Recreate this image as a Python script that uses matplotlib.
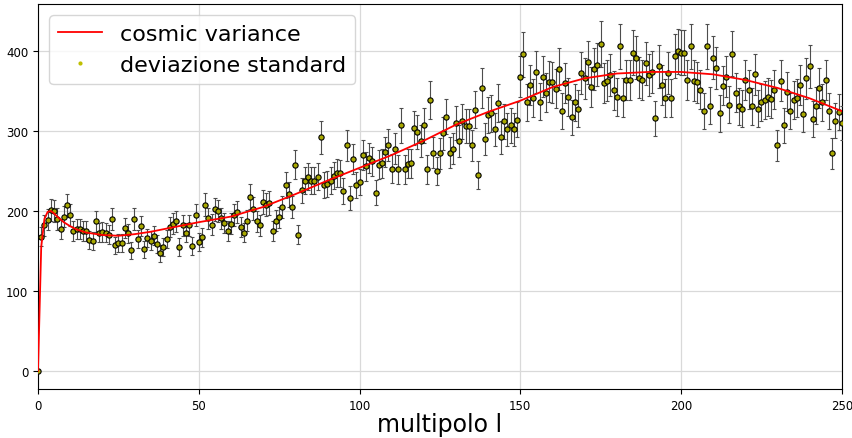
"""
    spettro di potenza: cosmic variance e deviazione standard
"""

import numpy as np
import matplotlib.pyplot as plt

# curva teorica (campionata)
l_teoria = [0, 1, 2, 3, 4, 5, 6, 8, 10, 12, 15, 20, 25, 30, 35, 40, 45, 50,
            60, 70, 80, 90, 100, 110, 120, 130, 140, 150, 160, 170, 180,
            190, 200, 210, 220, 230, 240, 250]
cl_teoria = [0, 155, 190, 199, 200, 197, 193, 186, 181, 177, 173, 170, 169,
             171, 174, 178, 182, 186, 193, 205, 221, 238, 254, 270, 288, 308,
             324, 338, 355, 366, 372, 374, 374, 371, 364, 354, 341, 325]

# dati simulati, un valore per multipolo l = 0..250
cl_dati = [0,
           168, 182, 189, 201, 200, 190, 177, 193, 207, 195,
           175, 177, 177, 175, 175, 164, 162, 187, 173, 174,
           173, 170, 190, 157, 160, 160, 179, 172, 151, 190,
           165, 181, 152, 166, 163, 169, 159, 147, 155, 165,
           180, 184, 187, 155, 182, 173, 182, 156, 195, 161,
           167, 208, 191, 183, 202, 200, 191, 185, 175, 184,
           195, 199, 180, 173, 188, 218, 203, 187, 182, 211,
           208, 210, 175, 188, 192, 205, 232, 221, 205, 258,
           170, 226, 238, 243, 238, 238, 243, 292, 232, 234,
           238, 244, 248, 247, 225, 282, 216, 265, 233, 236,
           270, 256, 266, 262, 223, 258, 260, 274, 283, 253,
           278, 252, 307, 252, 259, 260, 304, 299, 288, 307,
           252, 339, 273, 250, 272, 297, 318, 273, 278, 310,
           288, 312, 306, 306, 282, 327, 245, 354, 290, 320,
           322, 302, 335, 292, 312, 302, 307, 302, 314, 368,
           396, 336, 358, 341, 374, 337, 368, 348, 362, 361,
           353, 378, 325, 360, 343, 317, 336, 328, 373, 366,
           386, 355, 378, 383, 409, 360, 363, 370, 351, 343,
           406, 342, 364, 364, 398, 392, 367, 364, 385, 370,
           374, 316, 381, 358, 341, 373, 341, 394, 400, 398,
           398, 364, 406, 363, 361, 352, 325, 406, 332, 392,
           379, 322, 357, 368, 333, 397, 348, 331, 328, 364,
           352, 331, 371, 328, 336, 339, 343, 340, 352, 282,
           363, 307, 349, 325, 339, 341, 358, 321, 366, 381,
           315, 332, 354, 336, 364, 325, 272, 313, 324, 310]
l_dati = list(range(len(cl_dati)))
err_rel = 0.07

cl_dati = np.array(cl_dati, dtype=float)
errori = err_rel * cl_dati

fig = plt.figure(figsize=(8.52, 4.39), dpi=100)
ax = fig.add_axes([0.0446, 0.112, 0.9434, 0.8766])

ax.plot(l_teoria, cl_teoria, color='red', lw=1.3, label='cosmic variance', zorder=4)
ax.plot(l_dati, cl_dati, '.', color='y', ms=4, label='deviazione standard', zorder=1)
ax.errorbar(l_dati, cl_dati, yerr=errori, fmt='o', ms=3.8, mfc='#a8a800', mec='k',
            mew=0.8, ecolor='0.3', elinewidth=0.8, capsize=1.3, capthick=0.6, zorder=3)

ax.set_xlim(0, 250)
ax.set_ylim(-22.5, 459)
ax.set_xticks(list(range(0, 251, 50)))
ax.set_yticks(list(range(0, 401, 100)))
ax.tick_params(axis='both', labelsize=8.5)
ax.grid(True, color='0.85', lw=0.9)
ax.set_axisbelow(True)
ax.set_xlabel('multipolo l', size=17, labelpad=0)
ax.legend(loc='upper left', fontsize=16)

plt.savefig('out.png')
